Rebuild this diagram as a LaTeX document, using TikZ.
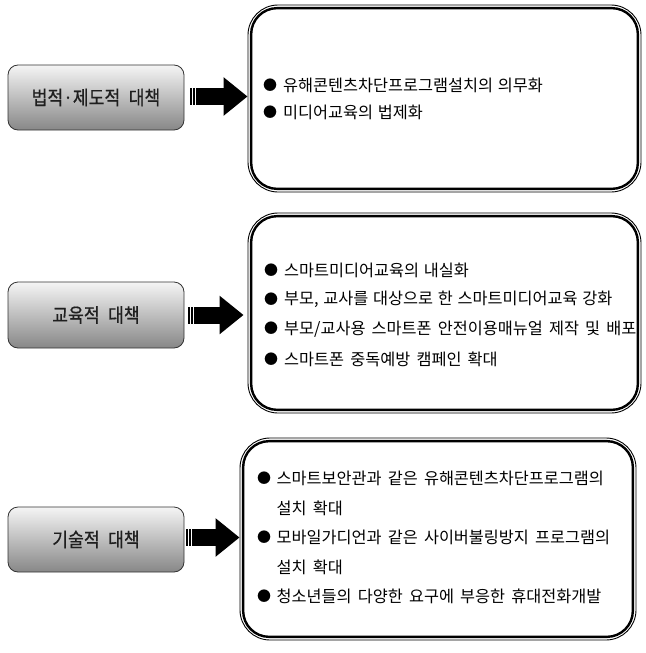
\documentclass[tikz,border=0pt]{standalone}
\usepackage{fontspec}
\newfontfamily\kr[WordSpace=2.1]{Noto Sans CJK KR}
\newfontfamily\krtight[WordSpace=1.3]{Noto Sans CJK KR}
\newfontfamily\krlab[WordSpace=2.2,FakeStretch=0.88,FakeBold=0.6]{Noto Sans CJK KR}
\usetikzlibrary{arrows.meta,calc}
\newcommand\bulA{\makebox[20pt][l]{\raisebox{0.6pt}{\fontsize{14}{16}\selectfont ●}}}
\newcommand\bulB{\makebox[19.5pt][l]{\raisebox{0.6pt}{\fontsize{14}{16}\selectfont ●}}}
\begin{document}
\begin{tikzpicture}[x=1pt,y=-1pt,
  lbox/.style={draw=black!80, line width=0.8pt, rounded corners=10pt,
    top color=white!96!black, bottom color=black!47,
    minimum width=176pt, inner sep=0pt,
    font=\krlab\fontsize{19.5}{22}\selectfont, text=black!88},
  rbox/.style={draw, line width=0.9pt, rounded corners=30pt, inner sep=0pt},
  rinner/.style={line width=2.4pt, rounded corners=26pt},
  item/.style={anchor=west, inner sep=0pt, font=\kr\fontsize{16.3}{19}\selectfont},
  bigarrow/.style={line width=17pt, -{Triangle[length=24pt,width=37pt]}},
  stripe/.style={draw=white, line width=0.9pt}
]
\useasboundingbox (0,0) rectangle (645,653);

% left boxes
\node[lbox, minimum height=65pt] (l1) at (96,97.5) {법적·제도적 대책};
\node[lbox, minimum height=66pt] (l2) at (96,315) {교육적 대책};
\node[lbox, minimum height=65pt] (l3) at (96,539.5) {기술적 대책};

% right boxes
\node[rbox, minimum width=393pt, minimum height=187pt] (r1) at (444.5,98.5) {};
\node[rbox, minimum width=393pt, minimum height=200pt] (r2) at (444.5,313) {};
\node[rbox, minimum width=396pt, minimum height=202pt] (r3) at (438,539) {};
\foreach \r in {r1,r2,r3}{
  \draw[rinner] ($(\r.north west)+(3.6,3.6)$) rectangle ($(\r.south east)+(-3.6,-3.6)$);
}

% arrows
\coordinate (s1) at ($(l1.east)+(6,-1)$);
\coordinate (s2) at ($(l2.east)+(4,0)$);
\coordinate (s3) at ($(l3.east)+(2,-2)$);
\draw[bigarrow] (s1) -- (s1 -| r1.west);
\draw[bigarrow] (s2) -- ($(s2 -| r2.west)+(-4,0)$);
\draw[bigarrow] (s3) -- (s3 -| r3.west);
\foreach \s in {s1,s2,s3}{
  \draw[stripe] ($(\s)+(2.2,-9)$) -- ($(\s)+(2.2,9)$);
  \draw[stripe] ($(\s)+(4.8,-9)$) -- ($(\s)+(4.8,9)$);
}

% box 1 items
\node[item] (a1) at (263,85) {\bulA 유해콘텐츠차단프로그램설치의 의무화};
\node[item] (a2) at (263,112) {\bulA 미디어교육의 법제화};

% box 2 items
\node[item] (b1) at (264,270) {\bulA 스마트미디어교육의 내실화};
\node[item] (b2) at (264,299.5) {\bulA 부모, 교사를 대상으로 한 스마트미디어교육 강화};
\node[item] (b3) at (264,329) {\bulA \krtight 부모/교사용 스마트폰 안전이용매뉴얼 제작 및 배포};
\node[item] (b4) at (264,359) {\bulA 스마트폰 중독예방 캠페인 확대};

% box 3 items
\node[item] (c1) at (257,478) {\bulB 스마트보안관과 같은 유해콘텐츠차단프로그램의};
\node[item] (c2) at (276.5,508) {설치 확대};
\node[item] (c3) at (257,537) {\bulB 모바일가디언과 같은 사이버불링방지 프로그램의};
\node[item] (c4) at (276.5,567) {설치 확대};
\node[item] (c5) at (257,596) {\bulB 청소년들의 다양한 요구에 부응한 휴대전화개발};
\end{tikzpicture}
\end{document}
